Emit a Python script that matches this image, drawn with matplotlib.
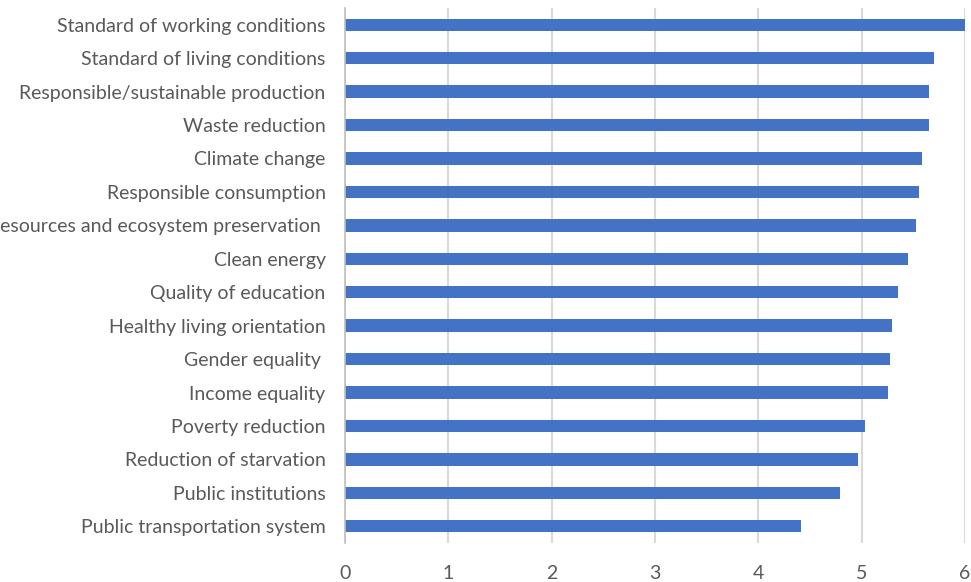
import matplotlib
matplotlib.use("Agg")
import matplotlib.pyplot as plt

categories = [
    "Standard of working conditions",
    "Standard of living conditions",
    "Responsible/sustainable production",
    "Waste reduction",
    "Climate change",
    "Responsible consumption",
    "Resources and ecosystem preservation ",
    "Clean energy",
    "Quality of education",
    "Healthy living orientation",
    "Gender equality ",
    "Income equality",
    "Poverty reduction",
    "Reduction of starvation",
    "Public institutions",
    "Public transportation system",
]
values = [6.0, 5.70, 5.65, 5.65, 5.58, 5.55, 5.53, 5.45, 5.35, 5.29, 5.27, 5.25,
          5.03, 4.96, 4.79, 4.41]
xticks = [0, 1, 2, 3, 4, 5, 6]

plt.rcParams['font.family'] = ['Lato', 'DejaVu Sans']

fig = plt.figure(figsize=(9.71, 5.82), dpi=100)
ax = fig.add_axes([345/971, 1-543/582, 620/971, 535/582])

ypos = list(range(len(categories)))
ax.barh(ypos, values, height=0.37, color="#4472C4", zorder=3)
ax.set_ylim(len(categories) - 0.5, -0.5)
ax.set_xlim(0, 6)
ax.set_yticks(ypos)
ax.set_yticklabels(categories, fontsize=14, color="#595959")
ax.set_xticks(xticks)
ax.set_xticklabels([str(t) for t in xticks], fontsize=14, color="#595959")
ax.tick_params(axis='y', length=0, pad=14)
ax.tick_params(axis='x', length=0, pad=16)
ax.grid(axis='x', color="#d9d9d9", linewidth=1.5, zorder=0)
for s in ['top', 'right', 'bottom']:
    ax.spines[s].set_visible(False)
ax.spines['left'].set_color("#bfbfbf")
ax.spines['left'].set_linewidth(1.2)
ax.spines['left'].set_zorder(4)

fig.savefig("out.png", dpi=100)
